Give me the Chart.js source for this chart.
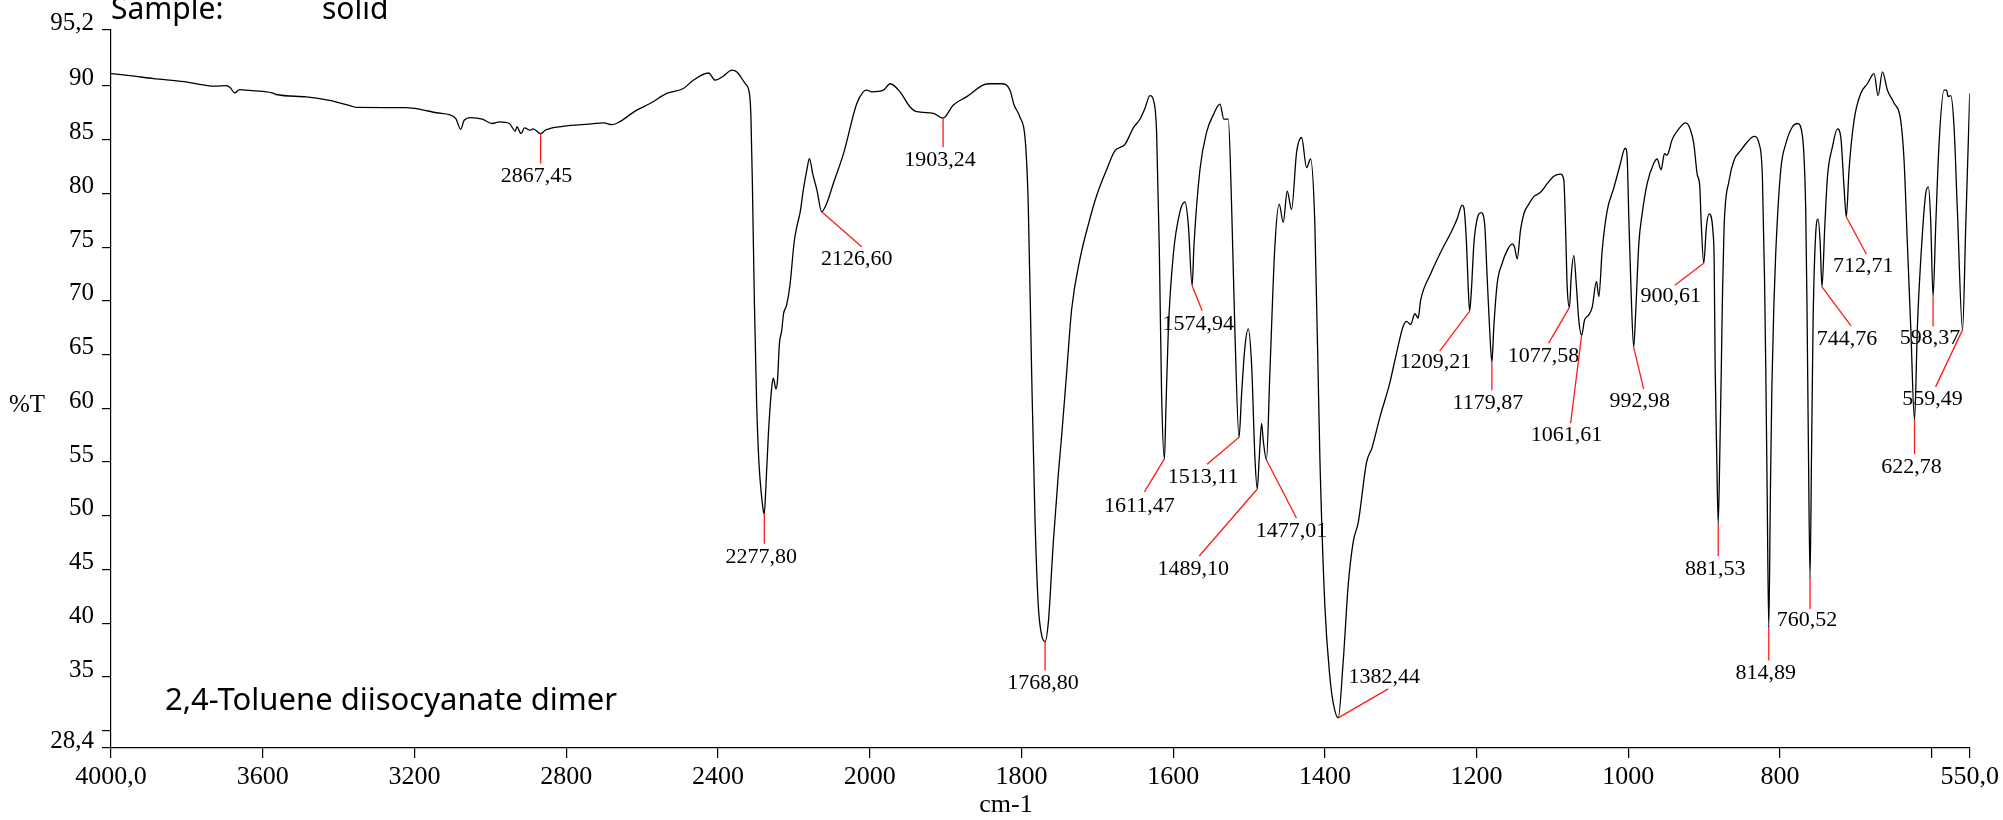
<!DOCTYPE html>
<html>
<head>
<meta charset="utf-8">
<script src="https://cdn.jsdelivr.net/npm/chart.js@4.4.0/dist/chart.umd.min.js"></script>
<style>
  html, body { margin: 0; padding: 0; background: #ffffff; }
  #wrap { position: relative; width: 2003px; height: 820px; }
</style>
</head>
<body>
<div id="wrap"><canvas id="irChart" width="2003" height="820"></canvas></div>
<script>
// IR spectrum of 2,4-toluene diisocyanate dimer (wavenumber cm-1 / %T)
const wavenumbers = [
    4000, 3938, 3888, 3807, 3757, 3727, 3696, 3686, 3674, 3661, 3646, 3575, 3565, 3485, 3424, 3364, 3353,
    3222, 3182, 3142, 3106, 3091, 3078, 3069, 3051, 3021, 2995, 2975, 2950, 2934, 2930, 2919, 2910, 2895,
    2887, 2867.45, 2854, 2809, 2740, 2700, 2680, 2665, 2614, 2579, 2535, 2491, 2465, 2425, 2407, 2386, 2363,
    2350, 2328, 2317, 2313, 2309, 2304, 2298, 2292, 2286, 2280, 2277.8, 2274, 2267, 2258, 2254, 2247, 2243,
    2238, 2232, 2227, 2219, 2210, 2199, 2192, 2183, 2175, 2165, 2159, 2150, 2139, 2126.6, 2113, 2096, 2069,
    2034, 2017, 2008, 1997, 1982, 1973, 1960, 1947, 1938, 1916, 1903.24, 1890, 1872, 1850, 1841, 1826, 1815,
    1810, 1802, 1795, 1791, 1786.5, 1782, 1777.7, 1773.3, 1768.8, 1764.5, 1758, 1751.3, 1747, 1740.4, 1733.8,
    1722.8, 1711.8, 1700.8, 1687.7, 1676.7, 1663.5, 1652.5, 1643.8, 1637.2, 1630.6, 1625.3, 1621.8, 1618.3,
    1615.2, 1611.47, 1609.5, 1606.4, 1599.8, 1591, 1584.4, 1580, 1574.94, 1572.6, 1564.7, 1555.9, 1547.1,
    1538.3, 1533.1, 1527.3, 1523, 1518.6, 1513.11, 1509.8, 1505.4, 1501, 1496.6, 1492.2, 1489.1, 1486.5,
    1483.4, 1481.2, 1477.01, 1472.5, 1465.9, 1460.2, 1454.9, 1449.6, 1443.9, 1437.3, 1430.7, 1424.1, 1418.9,
    1413.2, 1406.6, 1400, 1393.4, 1389, 1382.44, 1375.8, 1369.2, 1362.6, 1356, 1345, 1338, 1327, 1315, 1306,
    1297, 1292.4, 1287, 1281.4, 1277, 1273.9, 1260.7, 1247.5, 1232.2, 1225.6, 1219, 1216.8, 1213.3, 1211.1,
    1209.21, 1207.1, 1203.6, 1199.2, 1194, 1189.6, 1186.1, 1182.5, 1179.87, 1177.3, 1172.9, 1166.3, 1159.7,
    1153.1, 1150, 1146.5, 1142.1, 1137.7, 1131.2, 1124.6, 1115.8, 1107, 1098.2, 1089.4, 1085, 1082.8, 1080.6,
    1077.58, 1075.4, 1071.9, 1068.4, 1065.3, 1061.61, 1057.8, 1052.1, 1047.7, 1042, 1038.9, 1034.5, 1027.9,
    1019.2, 1010.4, 1006, 1003.8, 1001.6, 999.4, 996.3, 992.98, 990.6, 986.2, 981.8, 975.2, 966.5, 962.1,
    956.8, 952.4, 948.9, 946.7, 942.3, 933.5, 924.7, 920.3, 913.7, 909.3, 905.8, 904.1, 900.61, 897.1, 893.5,
    888.3, 886.9, 885.6, 883.6, 881.53, 879.4, 877.4, 875.8, 873.8, 867.2, 860.6, 851.8, 843, 834.2, 827.6,
    823.3, 820.5, 818.9, 817, 814.89, 812.8, 810.8, 808, 805.7, 799.1, 792.5, 783.7, 777.1, 770.5, 766.2,
    764.6, 762.6, 760.52, 758.5, 756.5, 753, 749.9, 747.3, 744.76, 741.1, 737.6, 731.1, 724.4, 720.1, 715.7,
    712.71, 709.1, 702.5, 693.7, 684.9, 676.1, 670.8, 665.1, 658.5, 649.8, 641, 636.6, 632.2, 627.8, 622.78,
    619, 614.6, 608, 604.5, 601.5, 598.37, 594.9, 590.5, 583.9, 580.4, 578.6, 575.1, 570.7, 566.3, 559.49,
    555.3, 550
];
const transmittance = [
    91.15, 90.9, 90.68, 90.4, 90.1, 89.97, 90.03, 89.85, 89.35, 89.66, 89.6, 89.35, 89.2, 88.98, 88.66, 88.1, 88.0,
    87.98, 87.8, 87.5, 87.3, 86.96, 85.96, 86.8, 87.05, 86.9, 86.5, 86.65, 86.5, 85.8, 86.2, 85.56, 86.1, 85.87,
    86.0, 85.56, 85.9, 86.24, 86.45, 86.55, 86.4, 86.55, 87.74, 88.36, 89.3, 89.76, 90.53, 91.2, 90.53, 90.9, 91.46,
    91.3, 90.2, 89.3, 87.1, 80.5, 70.0, 60.5, 55.0, 52.2, 50.4, 50.2, 52.4, 57.6, 62.0, 62.8, 61.8, 62.6,
    66.0, 67.2, 68.8, 69.6, 71.5, 75.5, 76.9, 78.3, 80.3, 82.3, 83.24, 81.8, 80.3, 78.3, 79.1, 80.9, 83.7,
    88.36, 89.45, 89.6, 89.45, 89.6, 90.2, 89.45, 88.06, 87.6, 87.45, 87.0, 88.2, 89.0, 90.1, 90.2, 90.2, 89.6,
    88.3, 87.1, 85.0, 79.0, 63.3, 49.5, 41.6, 38.9, 38.3, 40.1, 47.5, 53.9, 57.4, 63.3, 69.2,
    73.9, 77.1, 79.8, 82.2, 83.97, 84.56, 86.1, 86.9, 87.9, 89.1, 88.5, 85.7, 75.1,
    61.3, 55.3, 60.0, 67.2, 74.3, 78.3, 79.2, 77.1, 71.4, 75.1, 82.2, 85.7, 87.3,
    88.3, 86.9, 86.9, 79.0, 67.2, 57.3, 61.3, 65.7, 67.4, 64.1, 55.4, 52.5, 55.4,
    58.6, 57.0, 55.2, 63.3, 75.1, 79.0, 77.3, 80.2, 78.5, 83.8, 85.2, 82.4, 83.2,
    77.1, 55.4, 41.6, 35.0, 32.6, 31.2, 36.5, 43.6, 47.6, 49.4, 55.0, 56.3, 59.3, 62.2, 65.0,
    67.6, 68.1, 67.8, 68.8, 68.4, 70.0, 72.5, 74.5, 76.6, 77.65, 78.9, 78.7, 75.3, 71.3,
    69.05, 70.7, 75.3, 77.65, 78.2, 77.3, 72.2, 66.9, 64.3, 67.6, 71.6, 73.5, 74.7,
    75.3, 75.0, 73.9, 76.6, 78.1, 79.0, 79.7, 80.1, 80.9, 81.6, 81.8, 81.2, 76.9, 71.3,
    69.4, 72.2, 74.2, 71.3, 68.2, 66.8, 68.2, 68.7, 69.4, 71.8, 70.4, 74.7, 78.4,
    80.5, 82.8, 84.0, 84.2, 83.4, 77.8, 70.7, 65.7, 68.5, 75.3, 78.1, 80.9, 82.8, 83.2,
    82.2, 83.7, 83.55, 83.9, 85.0, 86.0, 86.56, 86.3, 84.6, 81.8, 80.6, 77.5, 73.5, 76.9, 78.1,
    76.3, 73.8, 64.0, 56.0, 49.3, 56.0, 64.0, 71.0, 76.9, 81.2, 83.1, 84.0, 84.8, 85.3, 84.6,
    81.5, 72.0, 64.0, 52.0, 39.6, 52.0, 62.0, 70.0, 74.5, 82.2, 84.6, 86.2, 86.5, 85.3, 78.4,
    70.0, 56.0, 44.3, 56.0, 68.0, 76.3, 77.6, 75.6, 71.3, 76.9, 81.5, 84.3, 86.0, 85.3, 80.6,
    77.8, 82.2, 86.8, 89.3, 90.2, 91.15, 89.1, 91.3, 89.6, 88.4, 86.8, 83.1, 75.3, 67.6, 58.9,
    67.6, 73.8, 80.0, 80.6, 77.5, 70.4, 76.9, 84.6, 89.6, 89.6, 89.0, 89.1, 86.2, 78.4, 67.3,
    76.9, 89.3
];

// labelled peaks
const peakWavenumbers = [2867.45, 2277.8, 2126.6, 1903.24, 1768.8, 1611.47, 1574.94, 1513.11, 1489.1, 1477.01,
    1382.44, 1209.21, 1179.87, 1077.58, 1061.61, 992.98, 900.61, 881.53, 814.89, 760.52, 744.76, 712.71,
    622.78, 598.37, 559.49];
const peakLabels = ['2867,45', '2277,80', '2126,60', '1903,24', '1768,80', '1611,47', '1574,94', '1513,11',
    '1489,10', '1477,01', '1382,44', '1209,21', '1179,87', '1077,58', '1061,61', '992,98', '900,61', '881,53',
    '814,89', '760,52', '744,76', '712,71', '622,78', '598,37', '559,49'];

// axis ticks
const xTickValues = [4000, 3600, 3200, 2800, 2400, 2000, 1800, 1600, 1400, 1200, 1000, 800, 600, 550];
const xTickLabels = ['4000,0', '3600', '3200', '2800', '2400', '2000', '1800', '1600', '1400', '1200', '1000', '800', '', '550,0'];
const yTickValues = [95.2, 90, 85, 80, 75, 70, 65, 60, 55, 50, 45, 40, 35, 30, 28.4];
const yTickLabels = ['95,2', '90', '85', '80', '75', '70', '65', '60', '55', '50', '45', '40', '35', '', '28,4'];

// leader line end (dx1, dy1) and label centre (dx2, dy2), px from the peak
const labelPlacement = [
    [0, 30, -4, 43], [0, 30, -3, 44], [40, 35, 35, 48], [0, 29, -3, 42], [0, 29, -2, 42],
    [-20, 33, -25, 47], [10, 25, 6, 38], [-32, 27, -36, 40], [-58, 67, -64, 80], [30, 58, 25, 71],
    [50, -29, 46, -41], [-30, 40, -34, 51], [0, 28, -4, 41], [-21, 36, -26, 49], [-11, 88, -15, 100],
    [10, 42, 6, 54], [-29, 22, -33, 33], [0, 33, -3, 46], [0, 33, -3, 46], [0, 32, -3, 43],
    [29, 39, 25, 52], [20, 37, 17, 49], [0, 34, -3, 47], [0, 30, -3, 42], [-27, 57, -30, 69]
];

// the wavenumber axis is 2x expanded below 2000 cm-1
function toAxis(w) {
    return w >= 2000 ? (4000 - w) / 2 : 1000 + (2000 - w);
}

const serif = '"Liberation Serif", "Times New Roman", serif';

const peakPlugin = {
    id: 'peakLabels',
    afterDatasetsDraw(chart) {
        const ctx = chart.ctx;
        const xs = chart.scales.x;
        const ys = chart.scales.y;
        ctx.save();
        peakWavenumbers.forEach((w, i) => {
            const t = transmittance[wavenumbers.indexOf(w)];
            const px = xs.getPixelForValue(toAxis(w));
            const py = ys.getPixelForValue(t);
            const p = labelPlacement[i];
            ctx.strokeStyle = '#ff1a1a';
            ctx.lineWidth = 1.3;
            ctx.beginPath();
            ctx.moveTo(px, py);
            ctx.lineTo(px + p[0], py + p[1]);
            ctx.stroke();
            ctx.fillStyle = '#000000';
            ctx.font = '22px ' + serif;
            ctx.textAlign = 'center';
            ctx.textBaseline = 'middle';
            ctx.fillText(peakLabels[i], px + p[2], py + p[3]);
        });
        ctx.restore();
    },
    afterDraw(chart) {
        const ctx = chart.ctx;
        ctx.save();
        ctx.fillStyle = '#000000';
        ctx.textBaseline = 'alphabetic';
        ctx.textAlign = 'left';
        ctx.font = '30px "Noto Sans", sans-serif';
        ctx.fillText('Sample:', 111, 19);
        ctx.fillText('solid', 322, 19);
        ctx.font = '31px "Noto Sans", sans-serif';
        ctx.fillText('2,4-Toluene diisocyanate dimer', 165, 710, 464);
        ctx.textAlign = 'center';
        ctx.textBaseline = 'middle';
        ctx.font = '25px ' + serif;
        ctx.fillText('%T', 27, 405);
        ctx.font = '26px ' + serif;
        ctx.fillText('cm-1', 1006, 805);
        ctx.restore();
    }
};

const ctx = document.getElementById('irChart').getContext('2d');
const irChart = new Chart(ctx, {
    type: 'line',
    data: {
        datasets: [{
            data: wavenumbers.map((w, i) => ({ x: toAxis(w), y: transmittance[i] })),
            borderColor: '#000000',
            borderWidth: 1.3,
            pointRadius: 0,
            fill: false,
            cubicInterpolationMode: 'monotone'
        }]
    },
    options: {
        responsive: false,
        animation: false,
        devicePixelRatio: 1,
        layout: {
            padding: { left: 0, top: 30, right: 33, bottom: 0 }
        },
        plugins: {
            legend: { display: false },
            tooltip: { enabled: false }
        },
        scales: {
            x: {
                type: 'linear',
                min: 0,
                max: 2450,
                afterBuildTicks: (scale) => {
                    scale.ticks = xTickValues.map(w => ({ value: toAxis(w) }));
                },
                afterFit: (scale) => { scale.height = 72; },
                ticks: {
                    autoSkip: false,
                    maxRotation: 0,
                    color: '#000000',
                    padding: 4,
                    font: { family: serif, size: 26 },
                    callback: (value, index) => xTickLabels[index]
                },
                grid: {
                    drawOnChartArea: false,
                    drawTicks: true,
                    tickLength: 10,
                    color: '#000000',
                    lineWidth: 1.2
                },
                border: { display: true, color: '#000000', width: 1.2 }
            },
            y: {
                type: 'linear',
                min: 28.4,
                max: 95.2,
                afterBuildTicks: (scale) => {
                    scale.ticks = yTickValues.map(v => ({ value: v }));
                },
                afterFit: (scale) => { scale.width = 111; },
                ticks: {
                    autoSkip: false,
                    color: '#000000',
                    padding: 8,
                    labelOffset: -7,
                    font: { family: serif, size: 25 },
                    callback: (value, index) => yTickLabels[index]
                },
                grid: {
                    drawOnChartArea: false,
                    drawTicks: true,
                    tickLength: 9,
                    color: '#000000',
                    lineWidth: 1.2
                },
                border: { display: true, color: '#000000', width: 1.2 }
            }
        }
    },
    plugins: [peakPlugin]
});
</script>
</body>
</html>
